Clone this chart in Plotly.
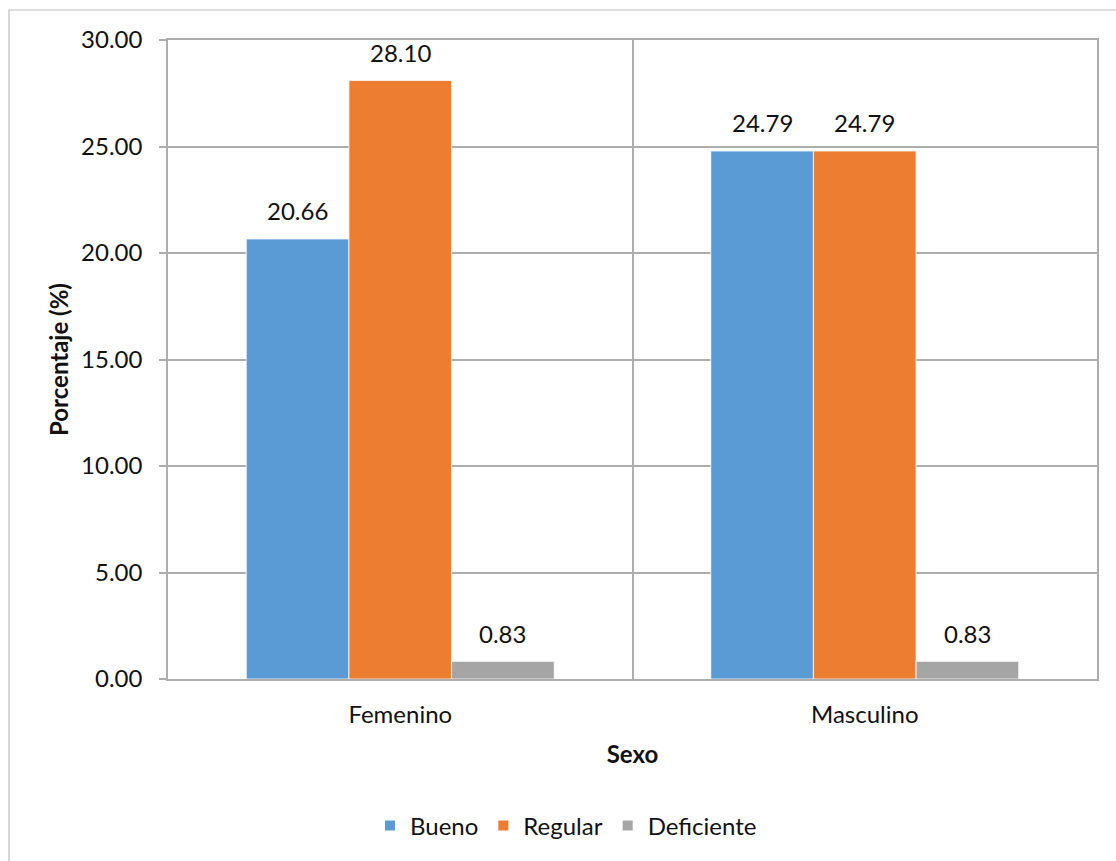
import plotly.graph_objects as go

# Data
categories = ["Femenino", "Masculino"]
series_names = ["Bueno", "Regular", "Deficiente"]
bueno = [20.66, 24.79]
regular = [28.10, 24.79]
deficiente = [0.83, 0.83]
series_values = [bueno, regular, deficiente]
colors = ["#5B9BD5", "#ED7D31", "#A5A5A5"]
y_ticks = [0, 5, 10, 15, 20, 25, 30]

W, H = 1116, 861
M_L, M_R, M_T, M_B = 168, 19, 40, 182
PW, PH = W - M_L - M_R, H - M_T - M_B

FONT = "Lato"
TXT = "#111111"
GRID = "#ADADAD"
FS = 24

fig = go.Figure()
for name, vals, col in zip(series_names, series_values, colors):
    fig.add_trace(go.Bar(
        x=categories, y=vals, name=name,
        marker=dict(color=col, line=dict(color="white", width=0.8)),
    ))

# value labels above each bar
bar_px = PW / len(categories) * (1 - 0.337) / len(series_names)
for i, vals in enumerate(series_values):
    for cat, v in zip(categories, vals):
        fig.add_annotation(
            x=cat, y=v, text=f"{v:.2f}", showarrow=False,
            xshift=(i - 1) * bar_px, yshift=28, yanchor="middle",
            font=dict(family=FONT, size=FS, color=TXT),
        )

# outer chart frame
fig.add_shape(
    type="rect", xref="paper", yref="paper", layer="below",
    x0=(9 - M_L) / PW, x1=(W + 10 - M_L) / PW,
    y0=(M_T + PH - (H + 10)) / PH, y1=(M_T + PH - 10) / PH,
    line=dict(color="#BFBFBF", width=1.2), fillcolor="rgba(0,0,0,0)",
)

fig.update_layout(
    width=W, height=H,
    margin=dict(l=M_L, r=M_R, t=M_T, b=M_B),
    paper_bgcolor="white", plot_bgcolor="white",
    barmode="group", bargap=0.337, bargroupgap=0,
    font=dict(family=FONT, size=FS, color=TXT),
    showlegend=True,
    legend=dict(
        orientation="h", x=(566 - M_L) / PW, xanchor="center",
        y=(M_T + PH - 826) / PH, yanchor="middle",
        font=dict(family=FONT, size=FS, color=TXT),
        itemsizing="constant", tracegroupgap=0,
    ),
    xaxis=dict(
        type="category", tickson="boundaries",
        showgrid=True, gridcolor=GRID, gridwidth=1.5,
        showline=True, linecolor=GRID, linewidth=1.5, mirror=True,
        ticks="", ticklabelstandoff=13,
        tickfont=dict(family=FONT, size=FS, color=TXT),
        title=dict(text="<b>Sexo</b>", standoff=20,
                   font=dict(family=FONT, size=FS, color=TXT)),
    ),
    yaxis=dict(
        range=[0, 30], tickvals=y_ticks, tickformat=".2f",
        showgrid=True, gridcolor=GRID, gridwidth=1.5,
        showline=True, linecolor=GRID, linewidth=1.5, mirror=True,
        ticks="outside", ticklen=7, tickcolor=GRID, tickwidth=1.5,
        ticklabelstandoff=12,
        tickfont=dict(family=FONT, size=FS, color=TXT),
        zeroline=False,
        title=dict(text="<b>Porcentaje (%)</b>", standoff=6,
                   font=dict(family=FONT, size=FS, color=TXT)),
    ),
)

fig.write_html("out.html")
